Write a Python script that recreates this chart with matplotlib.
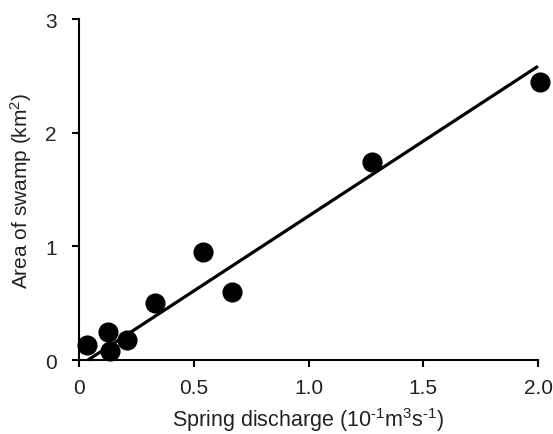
import matplotlib.pyplot as plt
import numpy as np

plt.rcParams['font.family'] = ['Liberation Sans', 'DejaVu Sans']
plt.rcParams['mathtext.fontset'] = 'custom'
plt.rcParams['mathtext.rm'] = 'Liberation Sans'
plt.rcParams['mathtext.it'] = 'Liberation Sans'
plt.rcParams['mathtext.default'] = 'regular'

# dados
descarga = [0.035, 0.127, 0.135, 0.21, 0.33, 0.54, 0.665, 1.277, 2.01]
area = [0.13, 0.25, 0.08, 0.18, 0.50, 0.95, 0.60, 1.74, 2.45]

# reta de ajuste
reta_x = [0.039, 2.0]
inclinacao = 1.318
x_corte = 0.039

fig = plt.figure(figsize=(5.53, 4.35), dpi=100)
ax = fig.add_axes([0.1429, 0.170, 0.8300, 0.784])

rx = np.array(reta_x)
ax.plot(rx, inclinacao * (rx - x_corte), color='black', lw=2.3, solid_capstyle='butt', clip_on=False)
ax.plot(descarga, area, 'o', color='black', ms=13.5, clip_on=False)

ax.set_xlim(0, 2.0)
ax.set_ylim(0, 3)
ax.set_xticks([0, 0.5, 1.0, 1.5, 2.0])
ax.set_xticklabels(['0', '0.5', '1.0', '1.5', '2.0'])
ax.set_yticks([0, 1, 2, 3])

for lado in ['top', 'right']:
    ax.spines[lado].set_visible(False)
for lado in ['left', 'bottom']:
    ax.spines[lado].set_linewidth(1.5)
ax.tick_params(direction='out', length=5, width=1.5, labelsize=15, colors='#222222')
ax.tick_params(axis='both', color='black')
ax.tick_params(axis='x', pad=8)
ax.tick_params(axis='y', pad=11)

ax.set_xlabel(r'Spring discharge (10$^{\text{-}1}$m$^{3}$s$^{\text{-}1}$)', fontsize=15.5,
              labelpad=6, color='#222222')
ax.set_ylabel('Area of swamp (km$^{2}$)', fontsize=15, labelpad=8, color='#222222')

plt.savefig('out.png')
